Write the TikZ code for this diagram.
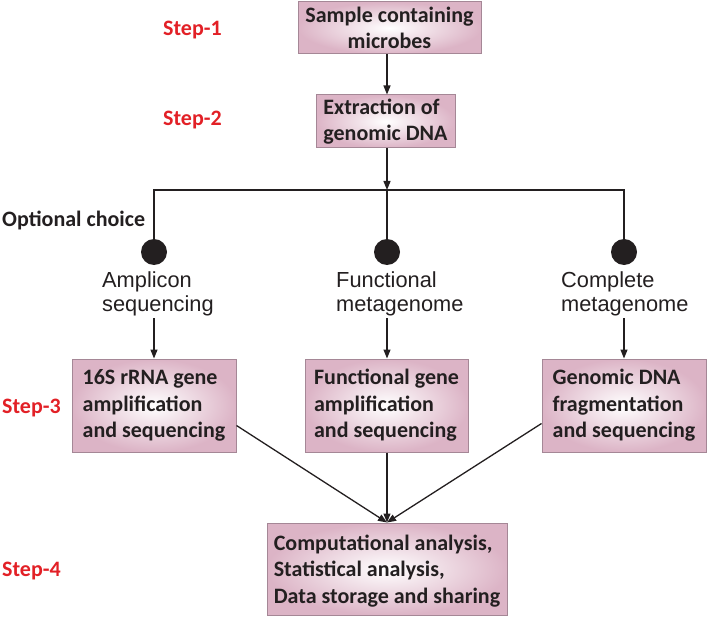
\documentclass[tikz,border=0pt]{standalone}
\usepackage{fontspec}
\setmainfont{Carlito}
\newfontfamily\arialf{Liberation Sans}
\usetikzlibrary{arrows.meta,calc}
\definecolor{boxpink}{RGB}{220,180,198}
\definecolor{boxedge}{RGB}{165,135,150}
\definecolor{stepred}{RGB}{226,32,38}
\definecolor{ink}{RGB}{35,31,32}
\tikzset{
  pinkbox/.style={draw=boxedge, line width=1pt, shading=radial, inner color=white, outer color=boxpink,
    font=\bfseries\fontsize{22}{26.5}\selectfont, text=ink, inner sep=0pt},
  leftbox/.style={pinkbox, align=left},
  steplabel/.style={anchor=west, inner sep=0pt, text=stepred, font=\bfseries\fontsize{22}{26}\selectfont},
  optlabel/.style={align=left, anchor=west, inner sep=0pt, text=ink, font=\arialf\fontsize{21.8}{24}\selectfont},
  dot/.style={circle, fill=ink, minimum size=26pt, inner sep=0pt},
  conn/.style={line width=1.3pt, ink},
  arr/.style={conn, -{Triangle[length=9pt,width=7pt]}}
}
\begin{document}
\begin{tikzpicture}[x=1pt,y=-1pt]
\useasboundingbox (0,0) rectangle (708,617);
% step labels
\node[steplabel] (s1) at (163,30) {Step-1};
\node[steplabel] (s2) at (163,120) {Step-2};
\node[steplabel] (s3) at (2,408) {Step-3};
\node[steplabel] (s4) at (2,571) {Step-4};
\node[anchor=west, inner sep=0pt, text=ink, font=\bfseries\fontsize{22}{26}\selectfont] (opt) at (2,220) {Optional choice};
% top boxes
\node[pinkbox, align=center, minimum width=183pt, minimum height=52pt] (b1) at (389.5,28) {Sample containing\\microbes};
\node[leftbox, minimum width=139pt, minimum height=53pt] (b2) at (385.5,121.5) {Extraction of\\genomic DNA};
% branching
\coordinate (split) at (387,190);
\coordinate (hl) at (154,190);
\coordinate (hr) at (624,190);
\node[dot] (dA) at (154,252) {};
\node[dot] (dB) at (387,252) {};
\node[dot] (dC) at (624,252) {};
\node[optlabel] (lA) at (102,294) {Amplicon\\sequencing};
\node[optlabel] (lB) at (336,294) {Functional\\metagenome};
\node[optlabel] (lC) at (561,294) {Complete\\metagenome};
% row boxes
\node[leftbox, minimum width=164pt, minimum height=93pt] (bA) at (154,405.5) {16S rRNA gene\\amplification\\and sequencing};
\node[leftbox, minimum width=163pt, minimum height=93pt] (bB) at (386.5,405.5) {Functional gene\\amplification\\and sequencing};
\node[leftbox, minimum width=164pt, minimum height=93pt] (bC) at (624,405.5) {Genomic DNA\\fragmentation\\and sequencing};
% final box
\node[leftbox, minimum width=240pt, minimum height=92pt] (bF) at (387,569) {\rule{0pt}{19pt}Computational analysis,\\Statistical analysis,\\Data storage and sharing};
% connectors
\draw[arr] (b1.south -| split) -- (b2.north -| split);
\draw[arr] (b2.south -| split) -- (split);
\draw[conn] (dA) -- (hl) -- (hr) -- (dC);
\draw[conn] (split) -- (dB);
\draw[arr] ([yshift=-2pt]lA.south -| bA.north) -- (bA.north);
\draw[arr] ([yshift=-2pt]lB.south -| split) -- (bB.north -| split);
\draw[arr] ([yshift=-2pt]lC.south -| bC.north) -- (bC.north);
\draw[arr] ([yshift=-20pt]bA.east) -- (bF.north);
\draw[arr] (bB.south -| bF.north) -- (bF.north);
\draw[arr] ([yshift=-18pt]bC.west) -- (bF.north);
\end{tikzpicture}
\end{document}
